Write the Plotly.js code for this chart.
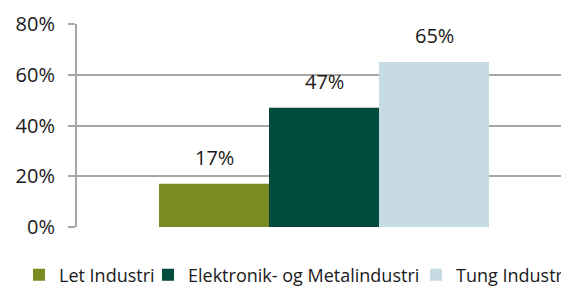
<!DOCTYPE html>
<html><head><meta charset="utf-8">
<script src="https://cdn.plot.ly/plotly-3.0.1.min.js"></script>
<style>html,body{margin:0;padding:0;overflow:hidden;width:561px;height:286px;background:#fff}</style>
</head><body><div id="chart"></div>
<script>
const seriesNames = ['Let Industri', 'Elektronik- og Metalindustri', 'Tung Industri'];
const seriesValues = [17, 47, 65];
const seriesColors = ['#7a8c1f', '#004b3b', '#c7dbe4'];
const yTicks = [0, 20, 40, 60, 80];

const FONT = '"Open Sans", sans-serif';
const TXT = '#1a1a1a';
const GRID = '#a6a6a6';
const bargap = 0.332;
const groupWidth = 1 - bargap;
const n = seriesValues.length;
const legendIds = ['legend', 'legend2', 'legend3'];
const legendLeftPx = [19, 148, 416];   // legend box left edges, in page pixels
const plotL = 77, plotW = 494, plotT = 24, plotH = 203;

const traces = seriesValues.map((v, i) => ({
  type: 'bar', x: [0], y: [v], name: seriesNames[i], legend: legendIds[i],
  marker: {color: seriesColors[i], line: {width: 0}}, hoverinfo: 'none'
}));

const annotations = seriesValues.map((v, i) => ({
  x: (i - (n - 1) / 2) * groupWidth / n, y: v, xref: 'x', yref: 'y',
  text: v + '%', showarrow: false, yanchor: 'bottom', yshift: 11,
  font: {family: FONT, size: 20, color: TXT}
}));

const layout = {
  width: 700, height: 286,
  margin: {l: plotL, r: 700 - plotL - plotW, t: plotT, b: 286 - plotT - plotH, autoexpand: false},
  barmode: 'group', bargap: bargap, bargroupgap: 0,
  xaxis: {range: [-0.5, 0.5], showticklabels: false, showgrid: false, zeroline: false, showline: false, fixedrange: true},
  yaxis: {
    range: [0, 80], tickvals: yTicks, ticktext: yTicks.map(t => t + '%'),
    showgrid: true, gridcolor: GRID, gridwidth: 2, zeroline: false,
    showline: true, linecolor: GRID, linewidth: 2,
    ticks: 'outside', ticklen: 7, tickcolor: GRID, tickwidth: 2,
    ticklabelstandoff: 9,
    tickfont: {family: FONT, size: 20, color: TXT}, fixedrange: true
  },
  showlegend: true,
  annotations: annotations,
  paper_bgcolor: '#fff', plot_bgcolor: '#fff'
};

legendIds.forEach((id, i) => {
  layout[id] = {
    orientation: 'h', xref: 'paper', yref: 'paper',
    x: (legendLeftPx[i] - plotL) / plotW, y: -48 / plotH,
    xanchor: 'left', yanchor: 'middle',
    font: {family: FONT, size: 18, color: TXT}, bgcolor: 'rgba(0,0,0,0)'
  };
});

Plotly.newPlot('chart', traces, layout, {displayModeBar: false, staticPlot: true});
</script>
</body></html>
